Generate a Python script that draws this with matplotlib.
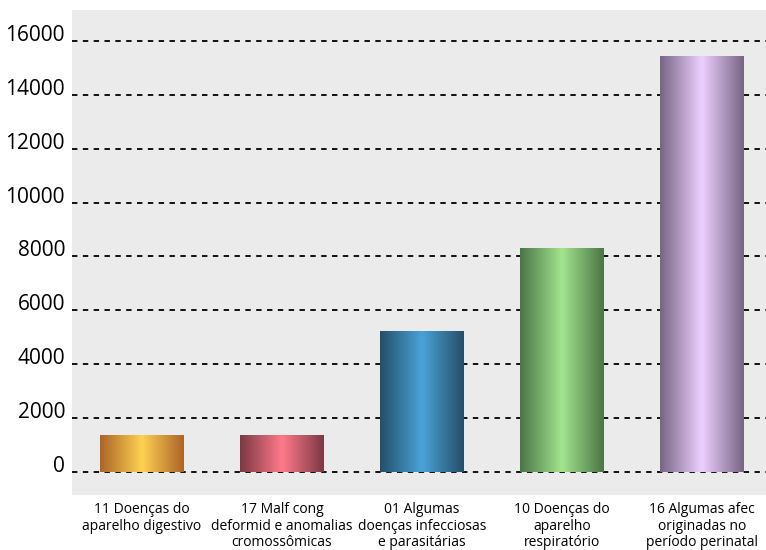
import matplotlib.pyplot as plt
from matplotlib.colors import LinearSegmentedColormap
import numpy as np

categories = ['11 Doenças do\naparelho digestivo',
              '17 Malf cong\ndeformid e anomalias\ncromossômicas',
              '01 Algumas\ndoenças infecciosas\ne parasitárias',
              '10 Doenças do\naparelho\nrespiratório',
              '16 Algumas afec\noriginadas no\nperíodo perinatal']
values = [1380, 1380, 5230, 8310, 15430]
edge_colors = ['#ab6427', '#7b3843', '#244f69', '#4b7545', '#776584']
mid_colors = ['#ffd152', '#ff7a8b', '#4ba2d8', '#a2e48f', '#edcfff']
yticks = [0, 2000, 4000, 6000, 8000, 10000, 12000, 14000, 16000]

plt.rcParams['font.family'] = ['Open Sans', 'DejaVu Sans']

fig = plt.figure(figsize=(7.66, 5.5), dpi=100)
ax = fig.add_axes([0.094, 0.1, 0.906, 0.882])
ax.set_facecolor('#ebebeb')

x = np.arange(len(categories))
bars = ax.bar(x, values, width=0.6, color='none', zorder=3)

# cylinder-like gradient fill for each bar
grad = np.linspace(0, 1, 256).reshape(1, -1)
for b, c0, c1 in zip(bars, edge_colors, mid_colors):
    cmap = LinearSegmentedColormap.from_list('g', [c0, c1, c0])
    x0, y0 = b.get_x(), b.get_y()
    w, h = b.get_width(), b.get_height()
    im = ax.imshow(grad, cmap=cmap, aspect='auto', extent=[x0, x0 + w, y0, y0 + h],
                   zorder=3, interpolation='bicubic')
    im.set_clip_path(b)

ax.set_xlim(-0.5, 4.46)
ax.set_ylim(-850, 17150)
ax.set_yticks(yticks)
ax.set_yticklabels([str(v) for v in yticks], fontsize=15, va='baseline')
ax.set_xticks(x)
ax.set_xticklabels(categories, fontsize=10, linespacing=1.15)
ax.tick_params(length=0)
ax.tick_params(axis='y', pad=5)
ax.tick_params(axis='x', pad=5)
ax.grid(axis='y', color='black', linestyle=(0, (3, 3)), linewidth=1.3, zorder=1)
ax.set_axisbelow(True)
for s in ax.spines.values():
    s.set_visible(False)

plt.savefig('out.png', dpi=100)
